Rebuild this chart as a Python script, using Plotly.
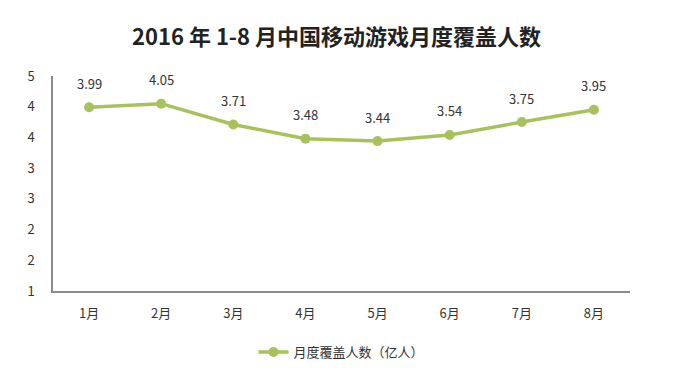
import plotly.graph_objects as go

months = ["1月", "2月", "3月", "4月", "5月", "6月", "7月", "8月"]
users = [3.99, 4.05, 3.71, 3.48, 3.44, 3.54, 3.75, 3.95]
y_tickvals = [1, 1.5, 2, 2.5, 3, 3.5, 4, 4.5]
y_ticktext = ["1", "2", "2", "3", "3", "4", "4", "5"]
series_name = "月度覆盖人数（亿人）"
title = "2016 年 1-8 月中国移动游戏月度覆盖人数"

green = "#a8c25b"
font_family = "Noto Sans CJK SC, Noto Sans, sans-serif"

fig = go.Figure()
fig.add_trace(go.Scatter(
    x=months, y=users, mode="lines+markers",
    name=series_name,
    line=dict(color=green, width=3.5),
    marker=dict(color=green, size=10),
    cliponaxis=False,
))
for m, v in zip(months, users):
    fig.add_annotation(x=m, y=v, text=f"{v:.2f}", showarrow=False,
                       yshift=24, font=dict(size=13, color="#333333", family=font_family))

fig.update_layout(
    width=673, height=381,
    margin=dict(l=53, r=43, t=76, b=90),
    paper_bgcolor="white", plot_bgcolor="white",
    font=dict(family=font_family, color="#333333", size=13),
    title=dict(text="<b>" + title + "</b>", x=0.5, xanchor="center",
               y=1 - 37/381, yanchor="middle",
               font=dict(size=22, color="#222222", family=font_family)),
    showlegend=True,
    legend=dict(orientation="h", x=0.5, xanchor="center",
                y=-0.284, yanchor="middle",
                font=dict(size=13, color="#333333"),
                itemwidth=30, bgcolor="rgba(0,0,0,0)"),
    xaxis=dict(range=[-0.5, 7.5], showline=True, linecolor="#8c8c8c", linewidth=1.5,
               showgrid=False, zeroline=False,
               ticks="outside", ticklen=10, tickcolor="rgba(0,0,0,0)",
               tickfont=dict(size=13, color="#333333")),
    yaxis=dict(range=[1, 4.5], showline=True, linecolor="#8c8c8c", linewidth=1.5,
               showgrid=False, zeroline=False,
               tickvals=y_tickvals, ticktext=y_ticktext,
               ticks="outside", ticklen=14, tickcolor="rgba(0,0,0,0)",
               tickfont=dict(size=13, color="#333333")),
)

fig.write_html("out.html")
